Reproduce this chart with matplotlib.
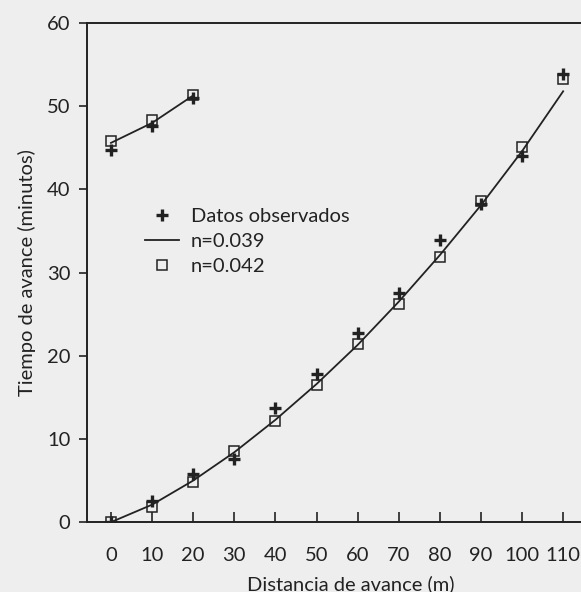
import matplotlib
matplotlib.use("Agg")
import matplotlib.pyplot as plt

# Datos (tiempo de avance en minutos)
distancia = [0, 10, 20, 30, 40, 50, 60, 70, 80, 90, 100, 110]
observados = [0, 2.5, 5.8, 7.6, 13.7, 17.8, 22.7, 27.5, 33.9, 38.2, 44.0, 53.9]
n_039 = [0, 2.1, 5.0, 8.4, 12.3, 16.6, 21.3, 26.5, 32.1, 38.1, 44.6, 51.8]
n_042 = [0, 1.8, 4.8, 8.6, 12.2, 16.5, 21.4, 26.2, 31.9, 38.6, 45.1, 53.3]

# tramo superior (arriba a la izquierda)
dist_sup = [0, 10, 20]
obs_sup = [44.7, 47.6, 51.0]
n_039_sup = [45.6, 48.0, 51.3]
n_042_sup = [45.8, 48.3, 51.4]

xticks = [0, 10, 20, 30, 40, 50, 60, 70, 80, 90, 100, 110]
yticks = [0, 10, 20, 30, 40, 50, 60]

fondo = '#eeeeee'
tinta = '#222222'

plt.rcParams['font.family'] = ['Lato', 'DejaVu Sans']
plt.rcParams['font.size'] = 14.5

fig = plt.figure(figsize=(5.81, 5.92), dpi=100, facecolor=fondo)
ax = fig.add_axes([0.150, 0.118, 0.907, 0.843], facecolor=fondo)

# curva n=0.039
ax.plot(distancia, n_039, color=tinta, lw=1.3, label='n=0.039', zorder=2)
ax.plot(dist_sup, n_039_sup, color=tinta, lw=1.3, zorder=2)

# datos observados
ax.plot(distancia, observados, ls='none', marker='+', ms=9, mew=2.4,
        color=tinta, label='Datos observados', zorder=3)
ax.plot(dist_sup, obs_sup, ls='none', marker='+', ms=9, mew=2.4,
        color=tinta, zorder=3)

# n=0.042
ax.plot(distancia, n_042, ls='none', marker='s', ms=7, mew=1.1,
        mfc='none', mec=tinta, label='n=0.042', zorder=4)
ax.plot(dist_sup, n_042_sup, ls='none', marker='s', ms=7, mew=1.1,
        mfc='none', mec=tinta, zorder=4)

ax.set_xlim(-5.8, 122.4)
ax.set_ylim(0, 60)
ax.set_xticks(xticks)
ax.set_yticks(yticks)

for lado in ['left', 'bottom', 'top']:
    ax.spines[lado].set_linewidth(1.4)
    ax.spines[lado].set_color(tinta)
ax.spines['right'].set_visible(False)

ax.tick_params(axis='x', direction='in', length=7, width=1.2, pad=18,
               colors=tinta, labelsize=14.5)
ax.tick_params(axis='y', direction='out', length=6, width=1.2, pad=6,
               colors=tinta, labelsize=14.5)

ax.set_xlabel('Distancia de avance (m)', color=tinta, fontsize=14.5, labelpad=8)
ax.set_ylabel('Tiempo de avance (minutos)', color=tinta, fontsize=14.5, labelpad=8)

handles, labels = ax.get_legend_handles_labels()
orden = [1, 0, 2]
ax.legend([handles[i] for i in orden], [labels[i] for i in orden],
          frameon=False, loc='upper left', bbox_to_anchor=(0.075, 0.665),
          handlelength=1.7, handletextpad=0.6, labelspacing=0.38,
          fontsize=14.5, labelcolor=tinta)

fig.savefig('out.png', dpi=100, facecolor=fondo)
